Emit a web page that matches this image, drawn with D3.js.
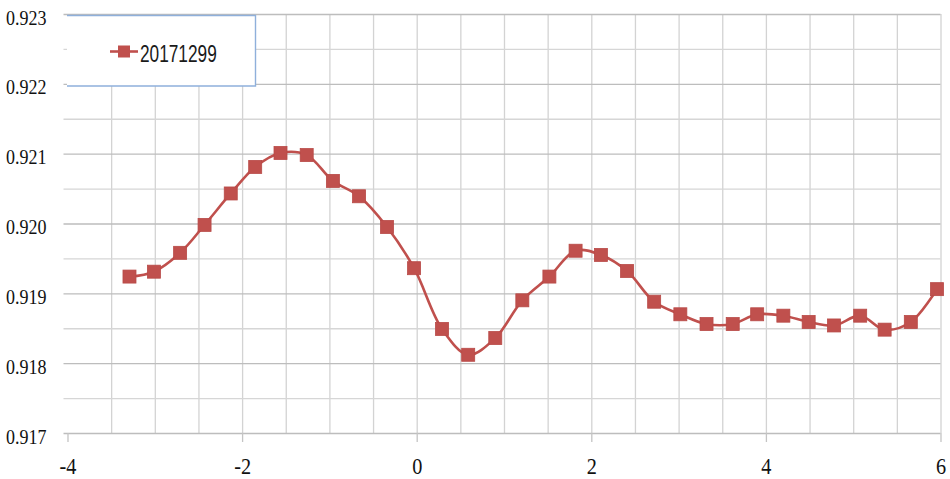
<!DOCTYPE html>
<html>
<head>
<meta charset="utf-8">
<script src="https://cdn.jsdelivr.net/npm/d3@7/dist/d3.min.js"></script>
<style>
  body { margin: 0; background: #fff; }
  svg { display: block; }
</style>
</head>
<body>
<div id="chart"></div>
<script>
// series
var seriesName = "20171299";
var xs = [-3.29, -3.01, -2.71, -2.43, -2.13, -1.85, -1.56, -1.26, -0.96, -0.66, -0.34,
          -0.03, 0.29, 0.59, 0.90, 1.21, 1.52, 1.82, 2.11, 2.41, 2.72, 3.02, 3.32, 3.62,
          3.90, 4.20, 4.49, 4.78, 5.08, 5.36, 5.66, 5.96];
var ys = [0.91924, 0.91931, 0.91958, 0.91998, 0.92043, 0.92081, 0.92101, 0.92098,
          0.92061, 0.92039, 0.91995, 0.91936, 0.91849, 0.91812, 0.91836, 0.91890,
          0.91924, 0.91961, 0.91955, 0.91932, 0.91888, 0.91870, 0.91856, 0.91856,
          0.91870, 0.91868, 0.91859, 0.91854, 0.91868, 0.91848, 0.91859, 0.91906];
var xTicks = [-4, -2, 0, 2, 4, 6];
var yTicks = [0.917, 0.918, 0.919, 0.920, 0.921, 0.922, 0.923];

var data = [];
for (var i = 0; i < xs.length; i++) {
  data.push({x: xs[i], y: ys[i]});
}

var width = 950, height = 479;
var red = "#c0504d";

var svg = d3.select("#chart").append("svg")
    .attr("width", width)
    .attr("height", height);

var x = d3.scaleLinear().domain([-4, 6]).range([67.5, 940.5]);
var y = d3.scaleLinear().domain([0.917, 0.923]).range([433, 14]);

// squeeze text a bit, the source picture is narrower than the fonts
function squeeze(sel, k) {
  sel.each(function() {
    var w = this.getComputedTextLength();
    d3.select(this).attr("textLength", w * k).attr("lengthAdjust", "spacingAndGlyphs");
  });
}

// vertical grid every 0.5
svg.append("g")
    .attr("class", "grid grid--x")
    .attr("transform", "translate(0," + y(0.917) + ")")
    .call(d3.axisBottom(x)
      .tickValues(d3.range(-4, 6.001, 0.5))
      .tickSize(-(y(0.917) - y(0.923)))
      .tickFormat(""))
    .call(function(g) {
      g.select(".domain").remove();
      g.selectAll(".tick line").attr("stroke", "#d3d3d3").attr("stroke-width", 1.3);
      g.selectAll(".tick").filter(function(d) { return d === -4; }).remove();
    });

// horizontal grid every 0.0005
svg.append("g")
    .attr("class", "grid grid--y")
    .attr("transform", "translate(" + x(6) + ",0)")
    .call(d3.axisLeft(y)
      .tickValues(d3.range(0, 13).map(function(k) { return 0.917 + k * 0.0005; }))
      .tickSize(x(6) - 63.5)
      .tickFormat(""))
    .call(function(g) {
      g.select(".domain").remove();
      g.selectAll(".tick line")
        .attr("stroke", function(d, i) { return i % 2 === 0 ? "#bdbdbd" : "#d6d6d6"; })
        .attr("stroke-width", 1.4);
    });

// y labels
svg.append("g")
    .attr("class", "axis axis--y")
    .attr("transform", "translate(67.5,0)")
    .call(d3.axisLeft(y).tickValues(yTicks).tickSize(0).tickPadding(21)
      .tickFormat(d3.format(".3f")))
    .call(function(g) {
      g.select(".domain").remove();
      g.selectAll(".tick text")
        .attr("font-family", "'Liberation Serif', 'Times New Roman', serif")
        .attr("font-size", 20)
        .attr("fill", "#111")
        .attr("dy", "0.5em")
        .call(squeeze, 0.9);
    });

// x axis
svg.append("g")
    .attr("class", "axis axis--x")
    .attr("transform", "translate(0," + y(0.917) + ")")
    .call(d3.axisBottom(x).tickValues(xTicks).tickSize(9)
      .tickFormat(function(d) { return String(d); }))
    .call(function(g) {
      g.select(".domain").remove();
      g.selectAll(".tick line").attr("stroke", "#c4c4c4").attr("stroke-width", 1.3);
      g.selectAll(".tick text")
        .attr("font-family", "'Liberation Serif', 'Times New Roman', serif")
        .attr("font-size", 23)
        .attr("fill", "#111")
        .attr("y", 41)
        .attr("dy", 0)
        .call(squeeze, 0.88);
    });

// the series
var line = d3.line()
    .x(function(d) { return x(d.x); })
    .y(function(d) { return y(d.y); })
    .curve(d3.curveCatmullRom.alpha(0.5));

svg.append("path")
    .datum(data)
    .attr("fill", "none")
    .attr("stroke", red)
    .attr("stroke-width", 2.6)
    .attr("d", line);

var ms = 13;
svg.selectAll(".pt")
    .data(data)
    .enter().append("rect")
    .attr("class", "pt")
    .attr("x", function(d) { return x(d.x) - ms / 2; })
    .attr("y", function(d) { return y(d.y) - ms / 2; })
    .attr("width", ms)
    .attr("height", ms)
    .attr("fill", red)
    .attr("stroke", "#b84a47")
    .attr("stroke-width", 0.8);

// legend
var lg = svg.append("g").attr("class", "legend");
lg.append("rect")
    .attr("x", 67).attr("y", 15.5)
    .attr("width", 188.5).attr("height", 70.5)
    .attr("fill", "#fff");
lg.append("path")
    .attr("d", "M67,15.5H255.5V86H67")
    .attr("fill", "none")
    .attr("stroke", "#8fb0db")
    .attr("stroke-width", 1.4);
lg.append("line")
    .attr("x1", 110).attr("x2", 138)
    .attr("y1", 51.5).attr("y2", 51.5)
    .attr("stroke", red).attr("stroke-width", 2.6);
lg.append("rect")
    .attr("x", 124 - 6).attr("y", 51.5 - 6)
    .attr("width", 12).attr("height", 12)
    .attr("fill", red);
lg.append("text")
    .attr("x", 140).attr("y", 61.5)
    .attr("font-family", "'Liberation Sans', Arial, sans-serif")
    .attr("font-size", 23)
    .attr("fill", "#1a1a1a")
    .text(seriesName)
    .call(squeeze, 0.75);
</script>
</body>
</html>
